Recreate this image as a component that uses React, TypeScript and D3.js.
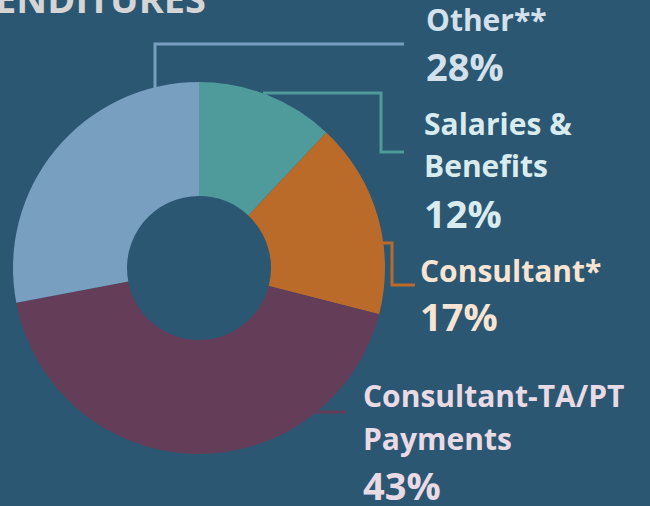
import React from "react";
import * as d3 from "d3";

const categories = ["Salaries & Benefits", "Consultant*", "Consultant-TA/PT Payments", "Other**"];
const values = [12, 17, 43, 28];
const sliceColors = ["#4f9a9b", "#bb6b29", "#643d59", "#789fbf"];
const labelLines = [["Salaries &", "Benefits"], ["Consultant*"], ["Consultant-TA/PT", "Payments"], ["Other**"]];
const labelColors = ["#d8ecef", "#f8e4d3", "#e9dbe6", "#d3e1ed"];
const pctLabels = ["12%", "17%", "43%", "28%"];

const W = 650, H = 506;
const cx = 199, cy = 268, R = 186, r0 = 72;

// label layout: [x, first baseline, line step, pct baseline]
const labelPos = [
  [424, 135, 42, 228],
  [420, 282, 42, 331],
  [363, 407, 43, 500],
  [426, 31, 42, 81],
];

// leader line paths, expressed as polylines
const leaders: [number, number][][] = [
  [[263, 93], [381, 93], [381, 152], [404, 152]],
  [[382, 243], [392, 243], [392, 285], [415, 285]],
  [[315, 412], [346, 412]],
  [[155, 90], [155, 44], [404, 44]],
];

export default function App() {
  const pie = d3.pie<number>().sort(null).value((d) => d)(values);
  const arc = d3.arc<d3.PieArcDatum<number>>().innerRadius(r0).outerRadius(R);
  const line = d3.line();
  return (
    <svg width={W} height={H} style={{ position: "fixed", left: 0, top: 0, display: "block" }}
      fontFamily="'Open Sans', sans-serif" fontWeight={700}>
      <rect width={W} height={H} fill="#2c5772" />
      <text x={206} y={13} textAnchor="end" fill="#d5d5d5" fontSize={38}>EXPENDITURES</text>
      <g transform={`translate(${cx},${cy})`}>
        {pie.map((p, i) => (
          <path key={i} d={arc(p) || ""} fill={sliceColors[i]} />
        ))}
      </g>
      {leaders.map((pts, i) => (
        <path key={i} d={line(pts) || ""} fill="none" stroke={sliceColors[i]} strokeWidth={3} />
      ))}
      {categories.map((c, i) => {
        const [x, y0, step, yp] = labelPos[i];
        return (
          <g key={c} fill={labelColors[i]}>
            {labelLines[i].map((t, j) => (
              <text key={j} x={x} y={y0 + j * step} fontSize={30}>{t}</text>
            ))}
            <text x={x} y={yp} fontSize={38}>{pctLabels[i]}</text>
          </g>
        );
      })}
    </svg>
  );
}
